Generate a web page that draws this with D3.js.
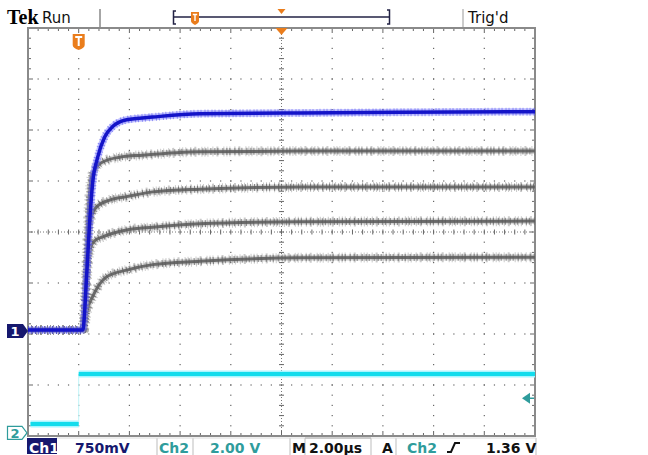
<!DOCTYPE html>
<html><head><meta charset="utf-8">
<script src="https://cdn.jsdelivr.net/npm/d3@7/dist/d3.min.js"></script>
<style>html,body{margin:0;padding:0;background:#fff;}svg{display:block;}</style>
</head><body>
<script>
// ---- data (time in µs, Ch1 in V, Ch2 in V) ----
const ch1Time  = [-2, 0.16, 0.32, 0.43, 0.55, 0.75, 1.03, 1.34, 1.89, 2.92, 4.77, 8.72, 12.66, 18];
const ch1Blue  = [0, 0, 0.84, 1.57, 2.16, 2.54, 2.84, 2.99, 3.09, 3.13, 3.18, 3.19, 3.20, 3.21];
const grayATime = [-2, 0.16, 0.28, 0.39, 0.51, 0.71, 0.95, 1.62, 2.52, 4.77, 8.72, 18];
const grayA     = [0, 0, 0.74, 1.76, 2.25, 2.40, 2.47, 2.54, 2.57, 2.62, 2.63, 2.63];
const grayBTime = [-2, 0.16, 0.32, 0.43, 0.55, 0.71, 1.22, 1.89, 2.92, 4.77, 8.72, 18];
const grayB     = [0, 0, 0.88, 1.54, 1.72, 1.81, 1.91, 1.96, 2.03, 2.07, 2.10, 2.10];
const grayCTime = [-2, 0.20, 0.36, 0.47, 0.63, 0.95, 1.89, 2.92, 4.77, 8.72, 18];
const grayC     = [0, 0, 0.96, 1.21, 1.31, 1.37, 1.47, 1.51, 1.56, 1.59, 1.60];
const grayDTime = [-2, 0.20, 0.28, 0.36, 0.55, 0.75, 1.10, 1.89, 2.92, 4.77, 8.72, 18];
const grayD     = [0, 0, 0.18, 0.32, 0.49, 0.63, 0.78, 0.88, 0.96, 1.01, 1.06, 1.07];
const ch2Time  = [-1.9, 0, 0, 18];
const ch2Vals  = [0.35, 0.35, 2.31, 2.31];
// settings / labels
const ch1Scale = 0.75, ch2Scale = 2.0;       // V/div
const ch1Pos = -1.92, ch2Pos = -3.94;        // ground position, divisions from centre
const trigLevel = 1.36;                      // V on Ch2
const bottomLabels = ["Ch1", "750mV", "Ch2", "2.00 V", "M", "2.00µs", "A", "Ch2", "1.36 V"];
const topLabels = ["Tek", "Run", "Trig'd"];

const W = 648, H = 455;
const svg = d3.select("body").append("svg").attr("width", W).attr("height", H);

const L = 28, R = 535, T = 28, B = 436;
const x = d3.scaleLinear().domain([-2, 18]).range([L, R]);
const xDiv = d3.scaleLinear().domain([-5, 5]).range([L, R]);
const yDiv = d3.scaleLinear().domain([-4, 4]).range([B, T]);
const y1 = v => yDiv(v / ch1Scale + ch1Pos);
const y2 = v => yDiv(v / ch2Scale + ch2Pos);

// ---- graticule ----
const g = svg.append("g");
const minorX = d3.range(-5, 5.001, 0.2), minorY = d3.range(-4, 4.001, 0.2);
for (let i = -4; i <= 4; i++) {
  if (i === 0) continue;
  g.selectAll(null).data(minorY).enter().append("rect")
    .attr("x", xDiv(i) - 0.6).attr("y", d => yDiv(d) - 0.6).attr("width", 1.2).attr("height", 1.2).attr("fill", "#666");
}
for (let j = -3; j <= 3; j++) {
  if (j === 0) continue;
  g.selectAll(null).data(minorX).enter().append("rect")
    .attr("x", d => xDiv(d) - 0.6).attr("y", yDiv(j) - 0.6).attr("width", 1.2).attr("height", 1.2).attr("fill", "#666");
}
g.append("line").attr("x1", L).attr("x2", R).attr("y1", yDiv(0)).attr("y2", yDiv(0))
  .attr("stroke", "#777").attr("stroke-width", 1).attr("stroke-dasharray", "1,2");
g.append("line").attr("x1", xDiv(0)).attr("x2", xDiv(0)).attr("y1", T).attr("y2", B)
  .attr("stroke", "#777").attr("stroke-width", 1).attr("stroke-dasharray", "1,2");
g.selectAll(null).data(minorX).enter().append("line")
  .attr("x1", d => xDiv(d)).attr("x2", d => xDiv(d)).attr("y1", yDiv(0) - 2.5).attr("y2", yDiv(0) + 2.5)
  .attr("stroke", "#666").attr("stroke-width", 1);
g.selectAll(null).data(minorY).enter().append("line")
  .attr("y1", d => yDiv(d)).attr("y2", d => yDiv(d)).attr("x1", xDiv(0) - 2.5).attr("x2", xDiv(0) + 2.5)
  .attr("stroke", "#666").attr("stroke-width", 1);
const isMajor = d => Math.abs(d - Math.round(d)) < 1e-6;
g.selectAll(null).data(minorX).enter().append("line")
  .attr("x1", d => xDiv(d)).attr("x2", d => xDiv(d)).attr("y1", T).attr("y2", d => T + (isMajor(d) ? 5 : 3)).attr("stroke", "#666");
g.selectAll(null).data(minorX).enter().append("line")
  .attr("x1", d => xDiv(d)).attr("x2", d => xDiv(d)).attr("y1", B).attr("y2", d => B - (isMajor(d) ? 5 : 3)).attr("stroke", "#666");
g.selectAll(null).data(minorY).enter().append("line")
  .attr("y1", d => yDiv(d)).attr("y2", d => yDiv(d)).attr("x1", L).attr("x2", d => L + (isMajor(d) ? 5 : 3)).attr("stroke", "#666");
g.selectAll(null).data(minorY).enter().append("line")
  .attr("y1", d => yDiv(d)).attr("y2", d => yDiv(d)).attr("x1", R).attr("x2", d => R - (isMajor(d) ? 5 : 3)).attr("stroke", "#666");
g.append("rect").attr("x", L).attr("y", T).attr("width", R - L).attr("height", B - T)
  .attr("fill", "none").attr("stroke", "#8a8a8a").attr("stroke-width", 2);

// ---- traces ----
const mk = (ts, vs, yf) => ts.map((t, i) => [x(t), yf(vs[i])]);
const lineM = d3.line().curve(d3.curveMonotoneX);
const lineL = d3.line();
const tr = svg.append("g");

function drawGray(ts, vs) {
  const p = lineM(mk(ts, vs, y1));
  tr.append("path").attr("d", p).attr("fill", "none").attr("stroke", "#b4b4b4").attr("stroke-width", 6).attr("opacity", 0.5);
  tr.append("path").attr("d", p).attr("fill", "none").attr("stroke", "#8a8a8a").attr("stroke-width", 10)
    .attr("stroke-dasharray", "1,2,1,4,1,3,2,5,1,2").attr("opacity", 0.45);
  tr.append("path").attr("d", p).attr("fill", "none").attr("stroke", "#6a6a6a").attr("stroke-width", 3);
  tr.append("path").attr("d", p).attr("fill", "none").attr("stroke", "#5c5c5c").attr("stroke-width", 7)
    .attr("stroke-dasharray", "1,3,1,2,1,4").attr("opacity", 0.7);
}
drawGray(grayDTime, grayD);
drawGray(grayCTime, grayC);
drawGray(grayBTime, grayB);
drawGray(grayATime, grayA);

const pb = lineM(mk(ch1Time, ch1Blue, y1));
tr.append("path").attr("d", pb).attr("fill", "none").attr("stroke", "#7070ff").attr("stroke-width", 7).attr("opacity", 0.45);
tr.append("path").attr("d", pb).attr("fill", "none").attr("stroke", "#3a3ae8").attr("stroke-width", 8)
  .attr("stroke-dasharray", "1,2,1,3").attr("opacity", 0.45);
tr.append("path").attr("d", pb).attr("fill", "none").attr("stroke", "#1414c8").attr("stroke-width", 3.5);

const pc = mk(ch2Time, ch2Vals, y2);
tr.append("path").attr("d", lineL(pc.slice(0, 2))).attr("fill", "none").attr("stroke", "#a8f6ff").attr("stroke-width", 7);
tr.append("path").attr("d", lineL(pc.slice(2))).attr("fill", "none").attr("stroke", "#a8f6ff").attr("stroke-width", 7);
tr.append("path").attr("d", lineL(pc)).attr("fill", "none").attr("stroke", "#bff4f8").attr("stroke-width", 1);
tr.append("path").attr("d", lineL(pc.slice(0, 2))).attr("fill", "none").attr("stroke", "#12dcec").attr("stroke-width", 4);
tr.append("path").attr("d", lineL(pc.slice(2))).attr("fill", "none").attr("stroke", "#12dcec").attr("stroke-width", 4);

// ---- markers ----
const orange = "#ea7d1c", navy = "#16186e", teal = "#2f9c9c";
const m1y = y1(0) + 1;
svg.append("path").attr("d", `M7,${m1y - 7} L23,${m1y - 7} L28,${m1y} L23,${m1y + 7} L7,${m1y + 7} Z`).attr("fill", navy);
svg.append("text").attr("x", 15).attr("y", m1y + 5).attr("text-anchor", "middle").attr("fill", "#fff")
  .attr("font-family", "DejaVu Sans").attr("font-weight", "bold").attr("font-size", 13).text("1");
const m2y = y2(0);
svg.append("path").attr("d", `M7.5,${m2y - 6.5} L22,${m2y - 6.5} L27,${m2y} L22,${m2y + 6.5} L7.5,${m2y + 6.5} Z`)
  .attr("fill", "#fff").attr("stroke", teal).attr("stroke-width", 1.2);
svg.append("text").attr("x", 15).attr("y", m2y + 5).attr("text-anchor", "middle").attr("fill", teal)
  .attr("font-family", "DejaVu Sans").attr("font-weight", "bold").attr("font-size", 13).text("2");
const ty = y2(trigLevel);
svg.append("path").attr("d", `M522,${ty} L530,${ty - 5.5} L530,${ty + 5.5} Z`).attr("fill", teal);
svg.append("line").attr("x1", 528).attr("x2", 534).attr("y1", ty).attr("y2", ty).attr("stroke", teal).attr("stroke-width", 1.5);
const tx = x(0);
svg.append("path").attr("d", `M${tx - 6},34 L${tx + 6},34 L${tx + 6},45 Q${tx + 6},48 ${tx},50 Q${tx - 6},48 ${tx - 6},45 Z`).attr("fill", orange);
svg.append("path").attr("d", `M${tx - 3.5},37 L${tx + 3.5},37 M${tx},37 L${tx},46`).attr("stroke", "#fff").attr("stroke-width", 2);
const cx = xDiv(0);
svg.append("path").attr("d", `M${cx - 6},28 L${cx + 6},28 L${cx},35 Z`).attr("fill", orange);
svg.append("path").attr("d", `M${cx - 4},9 L${cx + 4},9 L${cx},14 Z`).attr("fill", orange);

// ---- top bar ----
svg.append("text").attr("x", 7).attr("y", 24).attr("font-family", "Liberation Serif").attr("font-weight", "bold")
  .attr("font-size", 20).attr("fill", "#000").text(topLabels[0]);
svg.append("text").attr("x", 42).attr("y", 23).attr("font-family", "DejaVu Sans").attr("font-size", 15)
  .attr("fill", "#111").text(topLabels[1]);
svg.append("line").attr("x1", 100).attr("x2", 100).attr("y1", 9).attr("y2", 27).attr("stroke", "#888").attr("stroke-width", 1.5);
svg.append("line").attr("x1", 463).attr("x2", 463).attr("y1", 9).attr("y2", 27).attr("stroke", "#bbb").attr("stroke-width", 1.5);
svg.append("text").attr("x", 468).attr("y", 23).attr("font-family", "DejaVu Sans").attr("font-size", 15)
  .attr("fill", "#111").text(topLabels[2]);
svg.append("line").attr("x1", 174).attr("x2", 390).attr("y1", 17).attr("y2", 17).attr("stroke", "#222244").attr("stroke-width", 1.3);
svg.append("path").attr("d", "M176,11 L173.5,11 L173.5,24 L176,24").attr("fill", "none").attr("stroke", "#222244").attr("stroke-width", 1.5);
svg.append("path").attr("d", "M387,10 L389.5,10 L389.5,24 L387,24").attr("fill", "none").attr("stroke", "#222244").attr("stroke-width", 1.5);
svg.append("path").attr("d", "M191,12 L199,12 L199,21 Q199,23 195,25 Q191,23 191,21 Z").attr("fill", orange);
svg.append("path").attr("d", "M192.8,14.5 L197.2,14.5 M195,14.5 L195,21").attr("stroke", "#fff").attr("stroke-width", 1.4);

// ---- bottom bar ----
const bb = svg.append("g");
const cellTop = 438;
[157, 193, 290, 305, 371, 396, 536].forEach(xx =>
  bb.append("line").attr("x1", xx).attr("x2", xx).attr("y1", cellTop).attr("y2", H).attr("stroke", "#c8c8c8").attr("stroke-width", 1.2));
bb.append("line").attr("x1", 56).attr("x2", 536).attr("y1", cellTop).attr("y2", cellTop).attr("stroke", "#dcdcdc").attr("stroke-width", 1);
bb.append("line").attr("x1", 305).attr("x2", 371).attr("y1", cellTop).attr("y2", cellTop).attr("stroke", "#aaa").attr("stroke-width", 1.2);
bb.append("rect").attr("x", 27).attr("y", 438).attr("width", 30).attr("height", 16).attr("fill", navy);
const bt = (txt, xx, col) => bb.append("text").attr("x", xx).attr("y", 453).attr("font-family", "DejaVu Sans")
  .attr("font-weight", "bold").attr("font-size", 14).attr("fill", col).text(txt);
bt(bottomLabels[0], 29, "#fff");
bt(bottomLabels[1], 75, navy);
bt(bottomLabels[2], 159, teal);
bt(bottomLabels[3], 210, teal);
bt(bottomLabels[4], 292, "#111");
bt(bottomLabels[5], 309, "#111");
bt(bottomLabels[6], 382, "#111");
bt(bottomLabels[7], 407, teal);
bb.append("path").attr("d", "M447,452 L451,452 L455,443 L460,443").attr("fill", "none").attr("stroke", "#111").attr("stroke-width", 2);
bt(bottomLabels[8], 486, "#111");
</script>
</body></html>
